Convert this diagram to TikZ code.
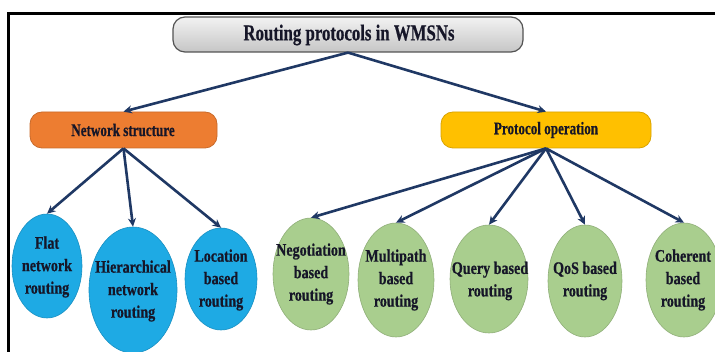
\documentclass[tikz,border=0pt]{standalone}
\usepackage{fontspec}
\setmainfont{Liberation Serif}
\newfontfamily\titlefont[FakeStretch=0.74,FakeBold=0.6]{Liberation Serif}
\newfontfamily\lblfont[FakeStretch=0.8,FakeBold=0.6]{Liberation Serif}
\usetikzlibrary{shapes.geometric,arrows.meta}
\definecolor{arrowc}{RGB}{31,56,100}
\definecolor{txtc}{RGB}{22,22,40}
\definecolor{orng}{RGB}{237,125,49}
\definecolor{yell}{RGB}{255,192,0}
\definecolor{blu}{RGB}{30,170,228}
\definecolor{grn}{RGB}{169,206,142}
\tikzset{
  conn/.style={draw=arrowc, line width=2.6pt, -{Stealth[length=8.5pt,width=8pt]}},
  titlebox/.style={rounded corners=12pt, top color=gray!10, bottom color=gray!45, draw=gray!65!black, line width=1.2pt, minimum width=350pt, minimum height=35pt, inner sep=0pt},
  catbox/.style={rounded corners=12pt, line width=0.8pt, minimum height=36pt, inner sep=0pt},
  bell/.style={ellipse, fill=blu, draw=blu!85!black, line width=0.6pt, inner sep=0pt},
  gell/.style={ellipse, fill=grn, draw=grn!85!black, line width=0.6pt, inner sep=0pt},
  etext/.style={align=center, text=txtc, font=\lblfont\bfseries\fontsize{17.6}{22.5}\selectfont, inner sep=0pt},
}
\begin{document}
\begin{tikzpicture}[x=1pt,y=-1pt]
\useasboundingbox (0,0) rectangle (715,352);
\fill[white] (0,0) rectangle (715,352);
% frame
\draw[line width=2.5pt] (715,13.5) -- (8.5,13.5) -- (8.5,353);

% title and categories
\node[titlebox] (title) at (348,34.5) {};
\node[text=txtc, font=\titlefont\bfseries\fontsize{22.7}{26}\selectfont, inner sep=0pt] (titlet) at (349,35) {Routing protocols in WMSNs};

\node[catbox, fill=orng, draw=orng!85!black, minimum width=187pt] (ns) at (123.5,130) {};
\node[text=txtc, font=\titlefont\bfseries\fontsize{17.7}{20}\selectfont, inner sep=0pt] (nst) at (123,130) {Network structure};

\node[catbox, fill=yell, draw=yell!85!black, minimum width=210pt] (po) at (546,130) {};
\node[text=txtc, font=\titlefont\bfseries\fontsize{17.7}{20}\selectfont, inner sep=0pt] (pot) at (546,130) {Protocol operation};

% ellipses
\node[bell, minimum width=70pt, minimum height=104pt] (flat) at (47,266) {};
\node[etext] (flatt) at (47,267) {Flat\\network\\routing};
\node[bell, minimum width=88pt, minimum height=126pt] (hier) at (133,290) {};
\node[etext] (hiert) at (133,291) {Hierarchical\\network\\routing};
\node[bell, minimum width=72pt, minimum height=102pt] (loc) at (221,279) {};
\node[etext] (loct) at (221,280) {Location\\based\\routing};

\node[gell, minimum width=76pt, minimum height=112pt] (neg) at (311,274) {};
\node[etext] (negt) at (311,274) {Negotiation\\based\\routing};
\node[gell, minimum width=76pt, minimum height=114pt] (mul) at (396,280) {};
\node[etext] (mult) at (396,280) {Multipath\\based\\routing};
\node[gell, minimum width=78pt, minimum height=108pt] (que) at (489,279) {};
\node[etext] (quet) at (490,281) {Query based\\routing};
\node[gell, minimum width=74pt, minimum height=112pt] (qos) at (585,281) {};
\node[etext] (qost) at (585,281) {QoS based\\routing};
\node[gell, minimum width=76pt, minimum height=114pt] (coh) at (684,280) {};
\node[etext] (coht) at (683,280) {Coherent\\based\\routing};

% connectors
\draw[conn] (title.south) -- (ns.north);
\draw[conn] (title.south) -- (po.north);
\draw[conn] (ns.south) -- (flat.north);
\draw[conn] (ns.south) -- (hier.north);
\draw[conn] (ns.south) -- (loc.north);
\draw[conn] (po.south) -- (neg.north);
\draw[conn] (po.south) -- (mul.north);
\draw[conn] (po.south) -- (que.north);
\draw[conn] (po.south) -- (qos.north);
\draw[conn] (po.south) -- (coh.north);
\end{tikzpicture}
\end{document}
